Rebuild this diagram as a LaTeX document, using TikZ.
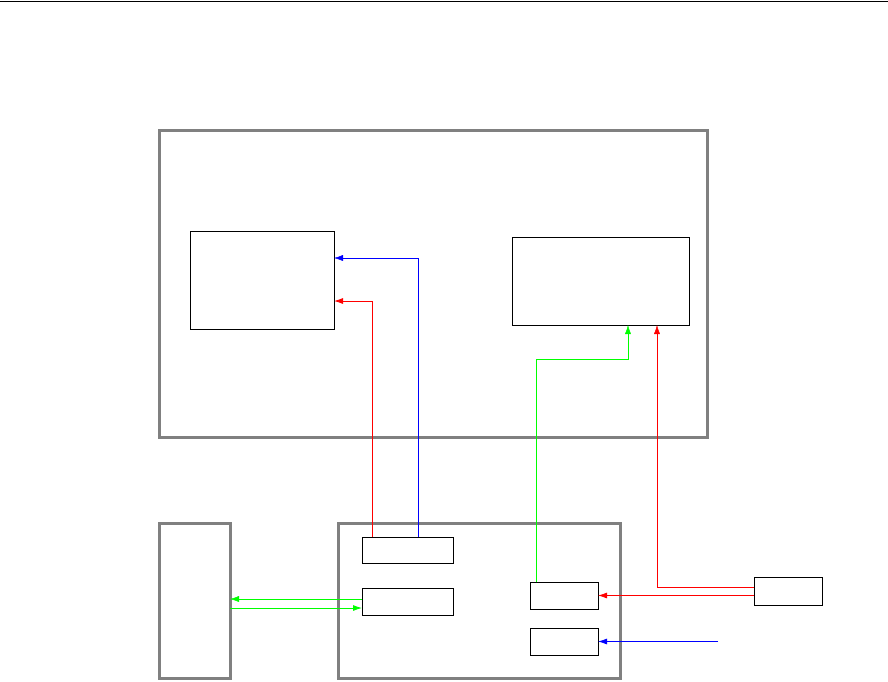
\documentclass[tikz,border=0pt]{standalone}
\usepackage{xcolor}
\usepackage{tikz}
\usetikzlibrary{positioning,arrows.meta}

\begin{document}
\begin{tikzpicture}[
        x=1pt, y=-1pt,
        frame/.style={
            draw=gray,
            line width=3pt,
            anchor=north west,
            inner sep=0pt,
            outer sep=0pt
        },
        unit/.style={
            draw,
            line width=0.9pt,
            anchor=north west,
            inner sep=0pt,
            outer sep=0pt
        },
        link/.style={-{Latex[length=9pt,width=6pt]}, line width=0.8pt},
        thinlink/.style={-{Latex[length=9pt,width=6pt]}, line width=0.4pt}
    ]
        \useasboundingbox (0,0) rectangle (888,681);
        \draw[line width=0.8pt] (0,1) -- (888,1);

        % frames
        \node[frame, minimum width=548pt, minimum height=307pt] (host) at (159,130) {};
        \node[frame, minimum width=71pt, minimum height=155pt] (side) at (159,523) {};
        \node[frame, minimum width=282pt, minimum height=155pt] (board) at (338,523) {};

        % units inside the frames
        \node[unit, minimum width=144pt, minimum height=98pt] (left) at (190,231) {};
        \node[unit, minimum width=177pt, minimum height=88pt] (right) at (512,237) {};
        \node[unit, minimum width=91pt, minimum height=26pt] (portA) at (362,537) {};
        \node[unit, minimum width=91pt, minimum height=27pt, below=25pt of portA.south west, anchor=north west] (portB) {};
        \node[unit, minimum width=68pt, minimum height=27pt] (inA) at (530,582) {};
        \node[unit, minimum width=68pt, minimum height=27pt, below=19pt of inA.south west, anchor=north west] (inB) {};
        \node[unit, minimum width=68pt, minimum height=28pt] (ext) at (754,577) {};
        \coordinate (feed) at (718,641.5);

        \draw[thinlink, blue] ([xshift=56pt]portA.north west) |- ([yshift=-27pt]left.north east);
        \draw[link, red] ([xshift=10pt]portA.north west) |- ([yshift=-70pt]left.north east);
        \draw[thinlink, green] ([xshift=6pt]inA.north west) -- ++(0,-223) -| ([xshift=116pt]right.south west);
        \draw[thinlink, red] ([yshift=4pt]ext.west) -| ([xshift=145pt]right.south west);
        \draw[link, red] (inA.east -| ext.west) -- (inA.east);
        \draw[link, blue] (feed) -- (inB.east);
        \draw[thinlink, green] ([yshift=2.5pt]portB.west) -- ([yshift=2.5pt]portB.west -| side.east);
        \draw[link, green] ([yshift=-6.5pt]portB.west -| side.east) -- ([yshift=-6.5pt]portB.west);
    \end{tikzpicture}
\end{document}
